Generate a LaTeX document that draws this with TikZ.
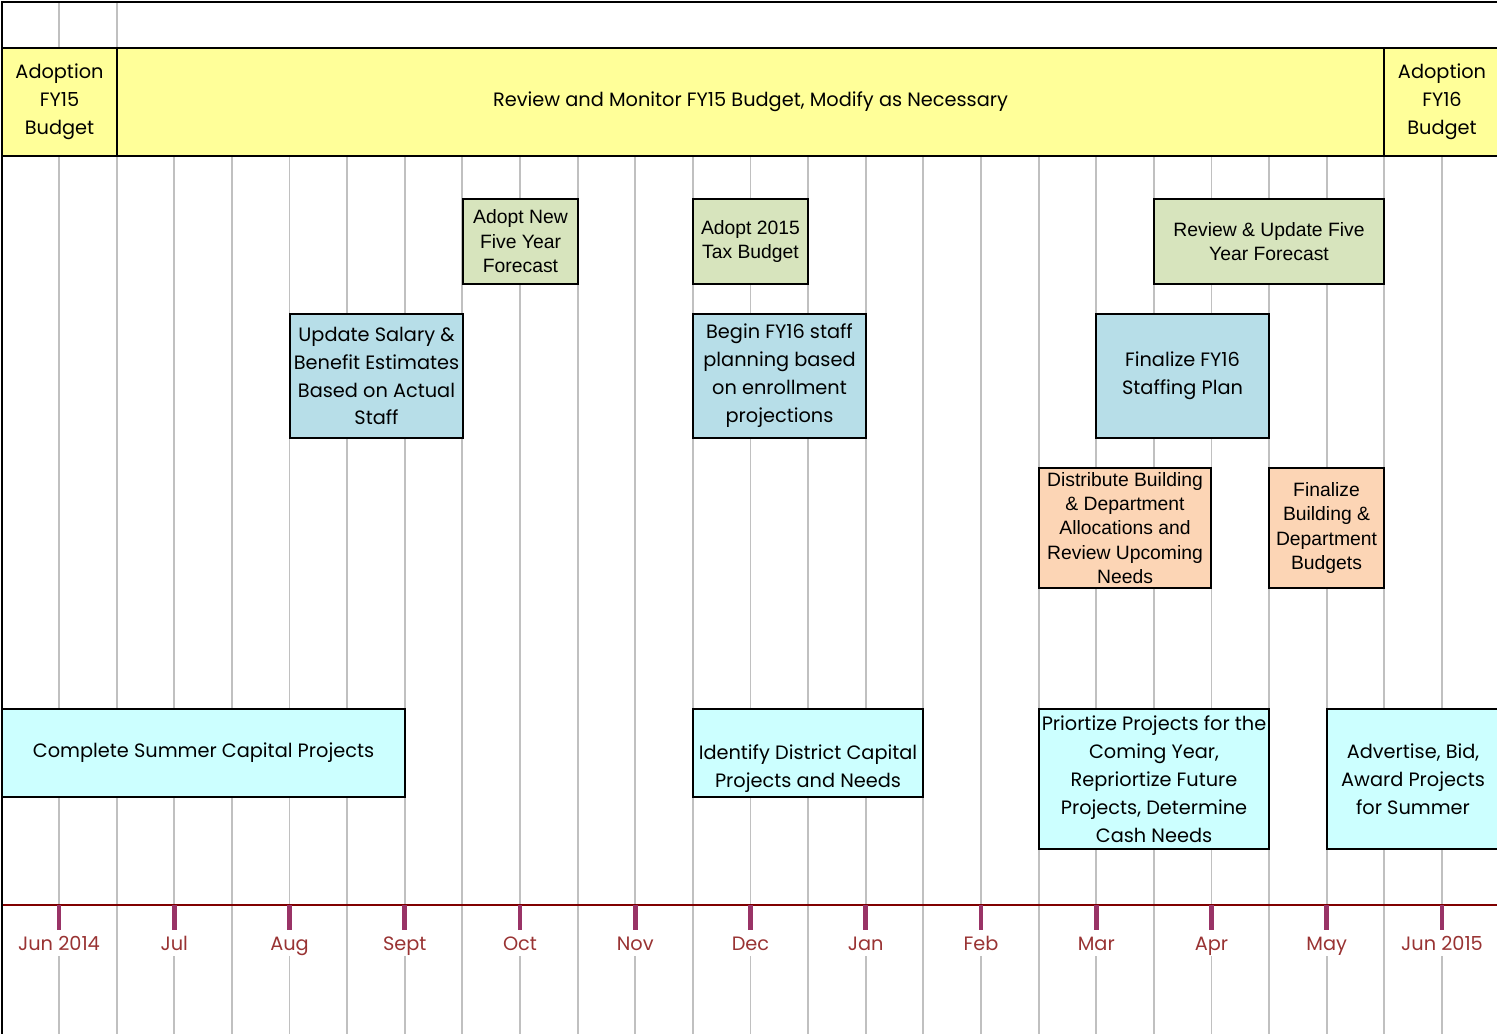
\documentclass[tikz,border=0pt]{standalone}
\usepackage{fontspec}
\setmainfont{Poppins}
\newfontfamily\arialfont{Liberation Sans}
\usepackage{tikz}
\usetikzlibrary{positioning}

\definecolor{bandyellow}{HTML}{FFFF99}
\definecolor{forecastgreen}{HTML}{D7E4BD}
\definecolor{staffblue}{HTML}{B7DEE8}
\definecolor{alloorange}{HTML}{FCD5B5}
\definecolor{capcyan}{HTML}{CCFFFF}
\definecolor{gridgray}{HTML}{C0C0C0}
\definecolor{timered}{HTML}{800000}
\definecolor{tickmag}{HTML}{993366}
\definecolor{monthred}{HTML}{993333}

\newcommand\gothictxt{\fontsize{11}{15.9}\selectfont}
\newcommand\arialtxt{\arialfont\fontsize{11}{13.9}\selectfont}

\begin{document}
\begin{tikzpicture}[x=0.02cm,y=-0.02cm,
  gridline/.style={draw=gridgray,line width=1.1pt},
  frameline/.style={draw=black,line width=1.6pt},
  band/.style={draw=black,line width=1.4pt,fill=bandyellow,align=center,font=\gothictxt,inner sep=0pt,minimum height=2.16cm},
  greenbox/.style={draw=black,line width=1.4pt,fill=forecastgreen,align=center,font=\arialtxt,inner sep=0pt},
  bluebox/.style={draw=black,line width=1.4pt,fill=staffblue,align=center,font=\gothictxt,inner sep=0pt},
  orangebox/.style={draw=black,line width=1.4pt,fill=alloorange,align=center,font=\arialtxt,inner sep=0pt},
  capbox/.style={draw=black,line width=1.4pt,fill=capcyan,align=center,font=\gothictxt,inner sep=0pt},
  monthtick/.style={draw=tickmag,line width=2.8pt},
  monthlabel/.style={fill=white,text=monthred,font=\gothictxt,inner sep=1pt,text height=10pt,text depth=1pt,minimum height=0.52cm}]

\useasboundingbox (0,0) rectangle (1497,1034);
\clip (0,0) rectangle (1497,1034);

% grid
\foreach \k in {0,...,24}
  \draw[gridline] ({59+57.625*\k},156) -- ({59+57.625*\k},1034);
\draw[gridline] (59,2) -- (59,48);
\draw[gridline] (117,2) -- (117,48);

% budget band
\node[band,minimum width=2.3cm] (adopt15) at (59.5,102) {Adoption\\FY15\\Budget};
\node[band,minimum width=25.34cm] (monitor) at (750.5,102) {Review and Monitor FY15 Budget, Modify as Necessary};
\node[band,minimum width=2.32cm] (adopt16) at (1442,102) {Adoption\\FY16\\Budget};

% forecast / tax budget
\node[greenbox,minimum width=2.3cm,minimum height=1.7cm] (newfc) at (520.5,241.5) {Adopt New\\Five Year\\Forecast};
\node[greenbox,minimum width=2.3cm,minimum height=1.7cm] (taxbud) at (750.5,241.5) {Adopt 2015\\Tax Budget};
\node[greenbox,minimum width=4.6cm,minimum height=1.7cm] (revfc) at (1269,241.5) {Review \& Update Five\\Year Forecast};

% staffing
\node[bluebox,minimum width=3.46cm,minimum height=2.48cm] (salary) at (376.5,376) {Update Salary \&\\Benefit Estimates\\Based on Actual\\Staff};
\node[bluebox,minimum width=3.46cm,minimum height=2.48cm] (stfplan) at (779.5,376) {Begin FY16 staff\\planning based\\on enrollment\\projections};
\node[bluebox,minimum width=3.46cm,minimum height=2.48cm] (stffin) at (1182.5,376) {Finalize FY16\\Staffing Plan};

% allocations
\node[orangebox,minimum width=3.44cm,minimum height=2.4cm] (distrib) at (1125,528) {Distribute Building\\\& Department\\Allocations and\\Review Upcoming\\Needs};
\node[orangebox,minimum width=2.3cm,minimum height=2.4cm] (budgets) at (1326.5,528) {Finalize\\Building \&\\Department\\Budgets};

% capital projects
\node[capbox,minimum width=8.06cm,minimum height=1.76cm] (summer) at (203.5,753) {Complete Summer Capital Projects};
\node[capbox,minimum width=4.6cm,minimum height=1.76cm] (ident) at (808,753) {};
\node[align=center,font=\gothictxt,inner sep=0pt] (identtxt) at (808,769) {Identify District Capital\\Projects and Needs};
\node[capbox,minimum width=4.6cm,minimum height=2.8cm] (prior) at (1154,779) {Priortize Projects for the\\Coming Year,\\Repriortize Future\\Projects, Determine\\Cash Needs};
\node[capbox,minimum width=3.44cm,minimum height=2.8cm] (advert) at (1413,779) {Advertise, Bid,\\Award Projects\\for Summer};

% timeline
\draw[draw=timered,line width=1.2pt] (2,905) -- (1497,905);
\foreach \m [count=\i from 0] in {Jun 2014,Jul,Aug,Sept,Oct,Nov,Dec,Jan,Feb,Mar,Apr,May,Jun 2015}{
  \draw[monthtick] ({59+115.25*\i},905) -- ({59+115.25*\i},930);
  \node[monthlabel] (m\i) at ({59+115.25*\i},943) {\m};
}

% frame
\draw[frameline] (2,1034) -- (2,2) -- (1497,2);
\end{tikzpicture}
\end{document}
